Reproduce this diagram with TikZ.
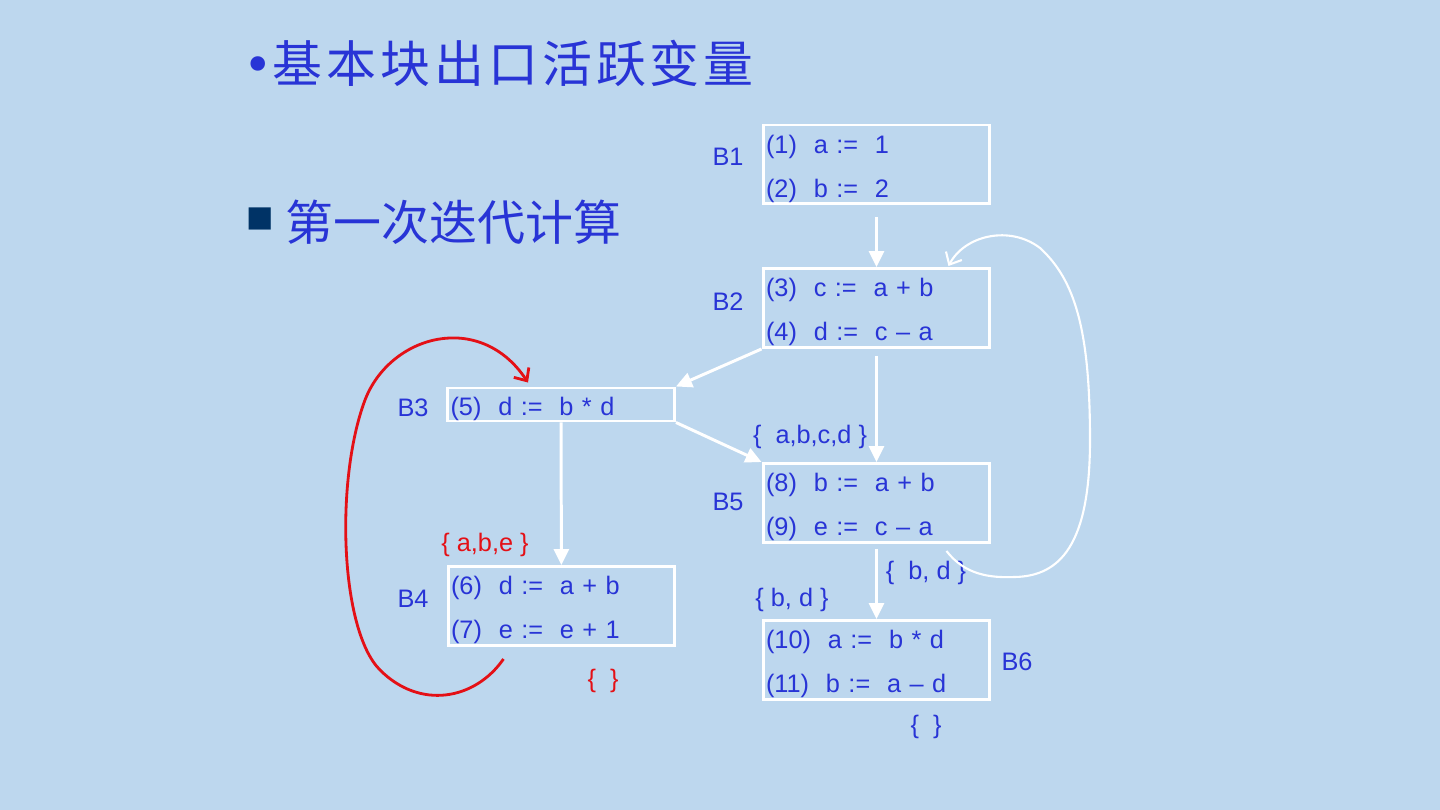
\documentclass[tikz,border=0pt]{standalone}
\usepackage{fontspec}
\setmainfont{Liberation Sans}
\newfontfamily\cjk{Noto Sans CJK SC}
\newfontfamily\dejavu{DejaVu Sans}
\usetikzlibrary{arrows.meta,calc}
\definecolor{slidebg}{RGB}{189,215,238}
\definecolor{ink}{RGB}{40,52,214}
\definecolor{loopred}{RGB}{228,16,22}
\definecolor{navy}{RGB}{0,51,102}
\newcommand{\codefont}{\fontsize{14.4}{25}\selectfont}

\begin{document}
\begin{tikzpicture}[x=0.02cm,y=-0.02cm,
  blk/.style={draw=white,line width=1.7pt,text width=4.42cm,inner xsep=0.06cm,
              inner ysep=0pt,text height=15.1pt,minimum height=1.58cm,align=left,
              font=\codefont,text=ink},
  lbl/.style={font=\codefont,text=ink,inner sep=0pt},
  redset/.style={lbl,text=loopred},
  arr/.style={-{Triangle[width=0.3cm,length=0.32cm]},draw=white,line width=1.7pt},
  back/.style={-{Straight Barb[length=0.2cm,width=0.36cm]},draw=white,line width=1.2pt},
  redloop/.style={-{Straight Barb[length=0.2cm,width=0.36cm]},draw=loopred,line width=1.6pt}
]
\path[use as bounding box,fill=slidebg] (0,0) rectangle (1440,810);

% slide headings
\node[anchor=west,inner sep=0pt,text=ink] (title) at (243,63)
  {\fontsize{28.4}{28.4}\selectfont\dejavu •\cjk\addfontfeature{LetterSpace=8}基本块出口活跃变量};
\node[anchor=west,inner sep=0pt,text=navy] (sq) at (246,219)
  {\fontsize{16.5}{16.5}\selectfont\dejavu ■};
\node[anchor=west,inner sep=0pt,text=ink] (sub) at (285,222)
  {\fontsize{27.3}{27.3}\selectfont\cjk 第一次迭代计算};

% basic blocks
\node[blk] (b1) at (876.5,164.5) {(1)~~a :=~~1\\(2)~~b :=~~2};
\node[blk] (b2) at (876.5,308)   {(3)~~c :=~~a + b\\(4)~~d :=~~c – a};
\node[blk,minimum height=0.66cm] (b3) at (561,404.5) {(5)~~d :=~~b * d};
\node[blk] (b5) at (876.5,503)   {(8)~~b :=~~a + b\\(9)~~e :=~~c – a};
\node[blk] (b4) at (561.5,606)   {(6)~~d :=~~a + b\\(7)~~e :=~~e + 1};
\node[blk] (b6) at (876.5,660)   {(10)~~a :=~~b * d\\(11)~~b :=~~a – d};

\node[lbl] (l1) at (728,157) {B1};
\node[lbl] (l2) at (728,302) {B2};
\node[lbl] (l3) at (413,408) {B3};
\node[lbl] (l5) at (728,502) {B5};
\node[lbl] (l4) at (413,599) {B4};
\node[lbl] (l6) at (1017,662) {B6};

% live-variable sets
\node[lbl] (s5in)  at (810,437) {\{~~a,b,c,d~\}};
\node[lbl] (s5out) at (926,573) {\{~~b, d~\}};
\node[lbl] (s6in)  at (792,600) {\{ b, d \}};
\node[lbl] (s6out) at (926,727) {\{~~\}};
\node[redset] (s4in)  at (485,545) {\{ a,b,e \}};
\node[redset] (s4out) at (603,681) {\{~~\}};

% flow edges
\draw[arr,shorten <=0.24cm] (b1) -- (b2);
\draw[arr] (b2.south west) -- (b3.north east);
\draw[arr,shorten <=0.14cm] (b2) -- (b5);
\draw[arr] (b3.south east) -- (b5.north west);
\draw[arr] (b3) -- (b4);
\draw[arr,shorten <=0.1cm] (b5) -- (b6);
% loop B5 -> B2
\draw[back] ($(b5.south east)+(-45,7)$) .. controls (965,575) and (990,578) .. (1015,577)
  .. controls (1060,576) and (1090,545) .. (1090,440)
  .. controls (1090,330) and (1075,280) .. (1040,248)
  .. controls (1010,225) and (965,235) .. ($(b2.north east)+(-43,-1)$);
% loop B4 -> B3
\draw[redloop] ($(b4.south)+(-58,12)$) .. controls (475,700) and (420,710) .. (380,670)
  .. controls (340,630) and (335,480) .. (365,400)
  .. controls (390,335) and (480,310) .. ($(b3.north)+(-33,-4)$);
\end{tikzpicture}
\end{document}
